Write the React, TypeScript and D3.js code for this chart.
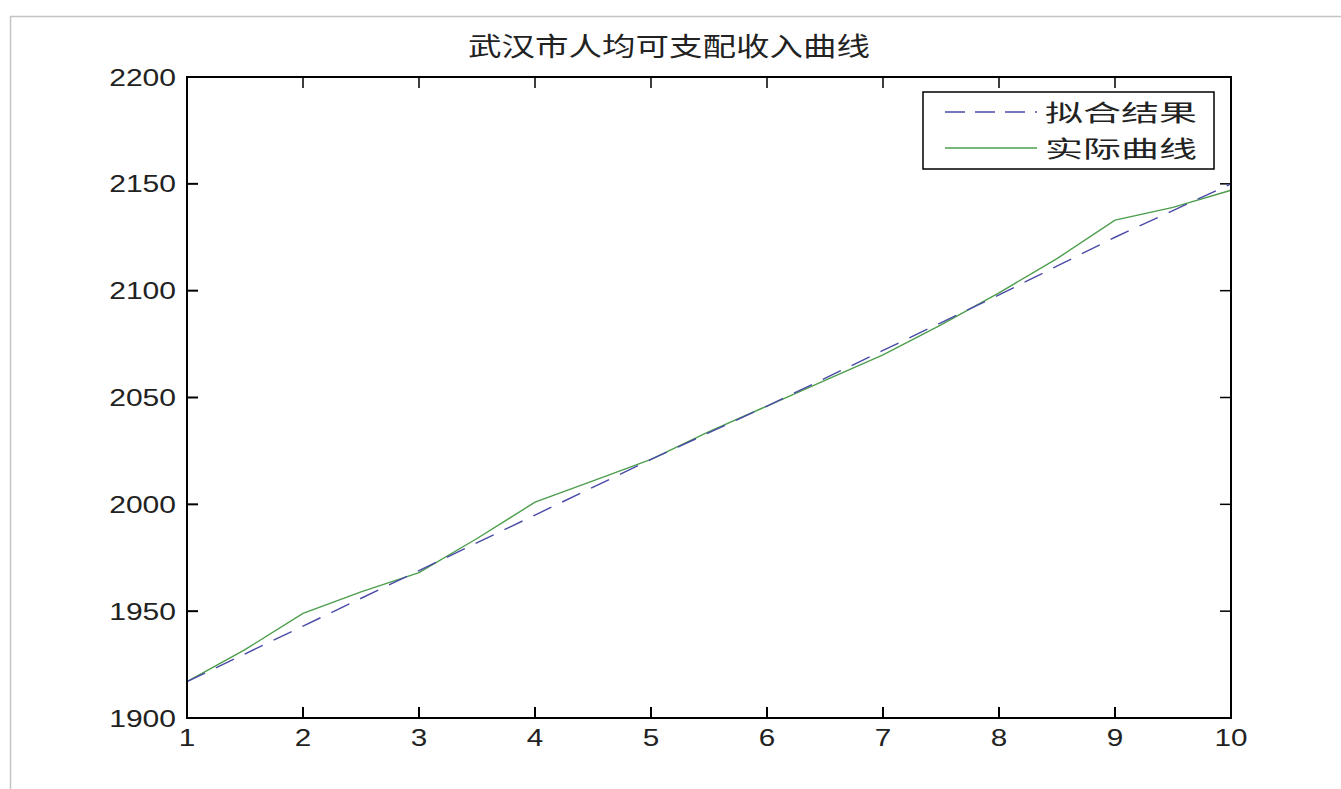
import { useEffect, useRef } from "react"
import * as d3 from "d3"

const TITLE = "武汉市人均可支配收入曲线"
const LEGEND_LABELS = ["拟合结果", "实际曲线"]

// fitted result (dashed)
const fitX = [1, 2, 3, 4, 5, 6, 7, 8, 9, 10]
const fitY = [1917, 1943, 1969, 1995, 2021, 2046, 2072, 2098, 2125, 2150]

// actual curve (solid)
const actX = [1, 1.5, 2, 2.5, 3, 3.5, 4, 4.5, 5, 5.5, 6, 6.5, 7, 7.5, 8, 8.5, 9, 9.5, 10]
const actY = [1917, 1932, 1949, 1959, 1968, 1984, 2001, 2011, 2021, 2034, 2046, 2058, 2070, 2084, 2099, 2115, 2133, 2139, 2147]

const xTicks = [1, 2, 3, 4, 5, 6, 7, 8, 9, 10]
const yTicks = [1900, 1950, 2000, 2050, 2100, 2150, 2200]

const WIDTH = 1341
const HEIGHT = 789
const PLOT = { left: 187, right: 1231, top: 77, bottom: 718 }
const FONT = "'Liberation Sans', Arial, sans-serif"
const CJK = "'Noto Sans CJK SC', sans-serif"
const FIT_COLOR = "#4a4aa8"
const ACT_COLOR = "#4c9e4c"

export default function App() {
  const svgRef = useRef<SVGSVGElement>(null)

  useEffect(() => {
    if (!svgRef.current) return
    const svg = d3.select(svgRef.current)
    svg.selectAll("*").remove()

    svg.append("rect").attr("width", WIDTH).attr("height", HEIGHT).attr("fill", "#fff")

    // outer gray frame of the screenshot
    svg.append("path")
      .attr("d", `M10.5,${HEIGHT} V16.5 H${WIDTH}`)
      .attr("fill", "none")
      .attr("stroke", "#c4c4c4")
      .attr("stroke-width", 1.5)

    const x = d3.scaleLinear().domain([1, 10]).range([PLOT.left, PLOT.right])
    const y = d3.scaleLinear().domain([1900, 2200]).range([PLOT.bottom, PLOT.top])

    const tickLen = 11
    const g = svg.append("g")

    // ticks inward on all four sides
    xTicks.forEach((t) => {
      g.append("line").attr("x1", x(t)).attr("x2", x(t)).attr("y1", PLOT.bottom).attr("y2", PLOT.bottom - tickLen)
        .attr("stroke", "#000").attr("stroke-width", 2)
      g.append("line").attr("x1", x(t)).attr("x2", x(t)).attr("y1", PLOT.top).attr("y2", PLOT.top + tickLen)
        .attr("stroke", "#000").attr("stroke-width", 1.5)
      const s = String(t)
      g.append("text")
        .attr("x", x(t))
        .attr("y", PLOT.bottom + 28)
        .attr("text-anchor", "middle")
        .attr("font-family", FONT)
        .attr("font-size", 24)
        .attr("fill", "#222")
        .attr("textLength", s.length * 16.5)
        .attr("lengthAdjust", "spacingAndGlyphs")
        .text(s)
    })
    yTicks.forEach((t) => {
      g.append("line").attr("x1", PLOT.left).attr("x2", PLOT.left + tickLen).attr("y1", y(t)).attr("y2", y(t))
        .attr("stroke", "#000").attr("stroke-width", 2)
      g.append("line").attr("x1", PLOT.right).attr("x2", PLOT.right - tickLen).attr("y1", y(t)).attr("y2", y(t))
        .attr("stroke", "#000").attr("stroke-width", 1.5)
      const s = String(t)
      g.append("text")
        .attr("x", PLOT.left - 11)
        .attr("y", y(t) + 8.5)
        .attr("text-anchor", "end")
        .attr("font-family", FONT)
        .attr("font-size", 24)
        .attr("fill", "#222")
        .attr("textLength", s.length * 16.7)
        .attr("lengthAdjust", "spacingAndGlyphs")
        .text(s)
    })

    // lines
    const line = d3.line<[number, number]>().x((d) => x(d[0])).y((d) => y(d[1]))

    g.append("path")
      .datum(actX.map((v, i) => [v, actY[i]] as [number, number]))
      .attr("fill", "none")
      .attr("stroke", ACT_COLOR)
      .attr("stroke-width", 1.4)
      .attr("d", line)

    g.append("path")
      .datum(fitX.map((v, i) => [v, fitY[i]] as [number, number]))
      .attr("fill", "none")
      .attr("stroke", FIT_COLOR)
      .attr("stroke-width", 1.4)
      .attr("stroke-dasharray", "20,12")
      .attr("d", line)

    // axes box
    g.append("rect")
      .attr("x", PLOT.left)
      .attr("y", PLOT.top)
      .attr("width", PLOT.right - PLOT.left)
      .attr("height", PLOT.bottom - PLOT.top)
      .attr("fill", "none")
      .attr("stroke", "#000")
      .attr("stroke-width", 2)

    // title
    svg.append("text")
      .attr("x", 669)
      .attr("y", 56)
      .attr("text-anchor", "middle")
      .attr("font-family", CJK)
      .attr("font-size", 26)
      .attr("fill", "#222")
      .attr("textLength", 402)
      .attr("lengthAdjust", "spacingAndGlyphs")
      .text(TITLE)

    // legend
    const lg = svg.append("g")
    lg.append("rect")
      .attr("x", 923)
      .attr("y", 92)
      .attr("width", 291)
      .attr("height", 77)
      .attr("fill", "#fff")
      .attr("stroke", "#000")
      .attr("stroke-width", 1.5)
    const rows = [
      { label: LEGEND_LABELS[0], color: FIT_COLOR, dash: "20,10", y: 112 },
      { label: LEGEND_LABELS[1], color: ACT_COLOR, dash: null, y: 148 },
    ]
    rows.forEach((r) => {
      const l = lg.append("line")
        .attr("x1", 945)
        .attr("x2", 1037)
        .attr("y1", r.y)
        .attr("y2", r.y)
        .attr("stroke", r.color)
        .attr("stroke-width", 1.4)
      if (r.dash) l.attr("stroke-dasharray", r.dash)
      lg.append("text")
        .attr("x", 1045)
        .attr("y", r.y + 9)
        .attr("font-family", CJK)
        .attr("font-size", 23)
        .attr("fill", "#222")
        .attr("textLength", 152)
        .attr("lengthAdjust", "spacingAndGlyphs")
        .text(r.label)
    })
  }, [])

  return (
    <svg
      ref={svgRef}
      width={WIDTH}
      height={HEIGHT}
      style={{ position: "absolute", left: 0, top: 0, display: "block" }}
    />
  )
}
